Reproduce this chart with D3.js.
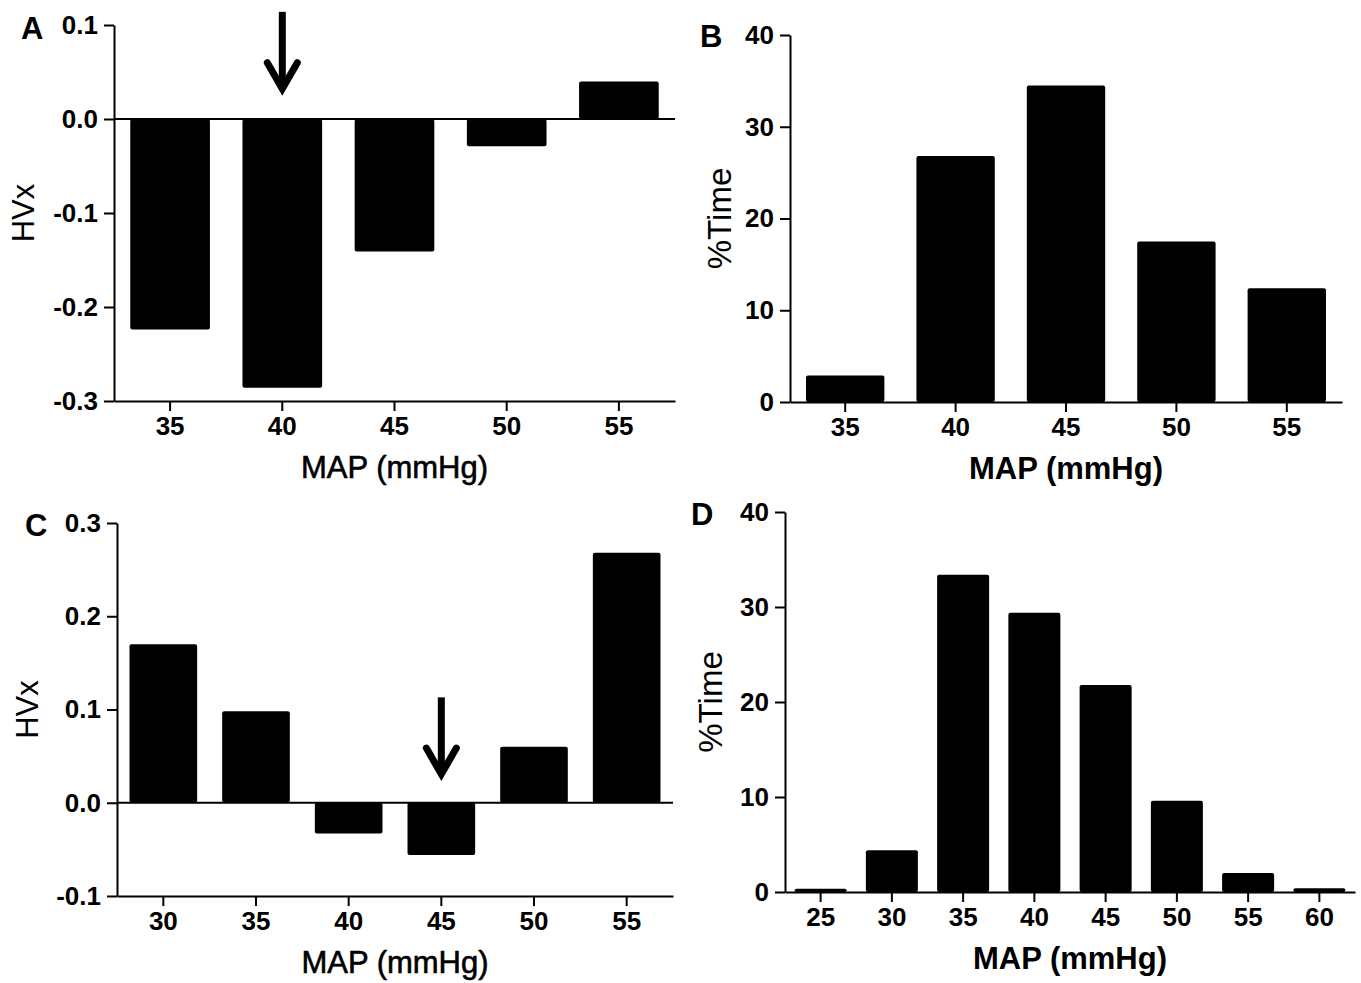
<!DOCTYPE html>
<html>
  <head>
    <meta charset="utf-8">
    <script src="https://d3js.org/d3.v7.min.js" charset="utf-8"></script>
    <style>
      body { margin: 0; background: #fff; }
      svg { display: block; }
      .tick text { font-family: "Liberation Sans", Arial, sans-serif; font-weight: bold; font-size: 26px; fill: #000; }
      .domain, .tick line { stroke: #000; stroke-width: 2; }
      .letter { font-family: "Liberation Sans", Arial, sans-serif; font-weight: bold; font-size: 31px; }
      .ytitle { font-family: "Liberation Sans", Arial, sans-serif; }
      .xtitle { font-family: "Liberation Sans", Arial, sans-serif; font-size: 31px; }
    </style>
  </head>
  <body>
    <div id="chart"></div>
    <script>
      // data
      var catsA = [35, 40, 45, 50, 55];
      var hvxA = [-0.224, -0.286, -0.141, -0.029, 0.040];
      var ticksA = [0.1, 0.0, -0.1, -0.2, -0.3];

      var catsB = [35, 40, 45, 50, 55];
      var timeB = [2.9, 26.8, 34.5, 17.5, 12.4];
      var ticksB = [0, 10, 20, 30, 40];

      var catsC = [30, 35, 40, 45, 50, 55];
      var hvxC = [0.170, 0.098, -0.033, -0.056, 0.060, 0.268];
      var ticksC = [0.3, 0.2, 0.1, 0.0, -0.1];

      var catsD = [25, 30, 35, 40, 45, 50, 55, 60];
      var timeD = [0.35, 4.4, 33.4, 29.4, 21.8, 9.6, 2.0, 0.4];
      var ticksD = [0, 10, 20, 30, 40];

      // arrows mark the lowest-HVx MAP (category, value at top, value at tip)
      var arrowA = [40, 0.114, 0.029];
      var arrowC = [45, 0.113, 0.0275];

      var svg = d3.select('#chart')
          .append('svg')
          .attr('width', 1361)
          .attr('height', 983);

      function drawPanel(p) {
          var x = d3.scaleBand()
              .domain(p.cats)
              .range([p.left, p.right])
              .paddingInner(p.pad)
              .paddingOuter(p.pad / 2);

          var y = d3.scaleLinear()
              .domain(p.yDomain)
              .range([p.bottom, p.top]);

          var g = svg.append('g');

          // bars
          g.selectAll('rect')
              .data(p.vals)
              .enter()
              .append('rect')
              .attr('x', function(d, i) { return x(p.cats[i]); })
              .attr('width', x.bandwidth())
              .attr('y', function(d) { return y(Math.max(0, d)); })
              .attr('height', function(d) { return Math.abs(y(d) - y(0)); })
              .attr('rx', 2)
              .attr('fill', '#000');

          // zero line for HVx panels
          if (p.yDomain[0] < 0) {
              g.append('line')
                  .attr('x1', p.left).attr('x2', p.right)
                  .attr('y1', y(0)).attr('y2', y(0))
                  .attr('stroke', '#000')
                  .attr('stroke-width', 2);
          }

          g.append('g')
              .attr('transform', 'translate(0,' + p.bottom + ')')
              .call(d3.axisBottom(x).tickSize(10).tickSizeOuter(0).tickPadding(6));

          g.append('g')
              .attr('transform', 'translate(' + p.left + ',0)')
              .call(d3.axisLeft(y).tickValues(p.ticks).tickSize(10).tickSizeOuter(0).tickPadding(6)
                  .tickFormat(p.fmt));

          g.selectAll('.domain').attr('fill', 'none');

          // titles
          g.append('text')
              .attr('class', 'letter')
              .attr('x', p.letterX).attr('y', p.letterY)
              .text(p.letter);

          g.append('text')
              .attr('class', 'ytitle')
              .attr('transform', 'translate(' + p.yTitleX + ',' + (p.top + p.bottom) / 2 + ') rotate(-90)')
              .attr('text-anchor', 'middle')
              .style('font-size', p.yTitleSize + 'px')
              .text(p.yTitle);

          var xt = g.append('text')
              .attr('class', 'xtitle')
              .attr('x', (p.left + p.right) / 2)
              .attr('y', p.bottom + 77)
              .attr('text-anchor', 'middle')
              .style('font-weight', p.xBold ? 'bold' : 'normal')
              .text('MAP (mmHg)');
          if (!p.xBold) xt.attr('stroke', '#000').attr('stroke-width', 0.6);

          if (p.arrow) {
              var ax = x(p.arrow[0]) + x.bandwidth() / 2;
              var y0 = y(p.arrow[1]), y1 = y(p.arrow[2]);
              g.append('path')
                  .attr('d', 'M' + ax + ',' + y0 + 'L' + ax + ',' + (y1 - 4))
                  .attr('stroke', '#000').attr('stroke-width', 7).attr('fill', 'none');
              g.append('path')
                  .attr('d', 'M' + (ax - 15) + ',' + (y1 - 29) + 'L' + ax + ',' + (y1 - 3) + 'L' + (ax + 15) + ',' + (y1 - 29))
                  .attr('stroke', '#000').attr('stroke-width', 7).attr('fill', 'none')
                  .attr('stroke-linecap', 'round').attr('stroke-linejoin', 'miter');
          }
      }

      var fmt1 = function(d) { return d.toFixed(1); };
      var fmt0 = function(d) { return d; };

      drawPanel({ cats: catsA, vals: hvxA, ticks: ticksA, fmt: fmt1, yDomain: [-0.3, 0.1],
                  left: 114, right: 675, top: 25, bottom: 401, pad: 0.29,
                  letter: 'A', letterX: 21, letterY: 39, yTitle: 'HVx', yTitleX: 34, yTitleSize: 31,
                  xBold: false, arrow: arrowA });

      drawPanel({ cats: catsB, vals: timeB, ticks: ticksB, fmt: fmt0, yDomain: [0, 40],
                  left: 790, right: 1342, top: 35, bottom: 402, pad: 0.29,
                  letter: 'B', letterX: 700, letterY: 47, yTitle: '%Time', yTitleX: 731, yTitleSize: 33,
                  xBold: true });

      drawPanel({ cats: catsC, vals: hvxC, ticks: ticksC, fmt: fmt1, yDomain: [-0.1, 0.3],
                  left: 117, right: 673, top: 523, bottom: 896, pad: 0.27,
                  letter: 'C', letterX: 25, letterY: 536, yTitle: 'HVx', yTitleX: 38, yTitleSize: 31,
                  xBold: false, arrow: arrowC });

      drawPanel({ cats: catsD, vals: timeD, ticks: ticksD, fmt: fmt0, yDomain: [0, 40],
                  left: 785, right: 1355, top: 512, bottom: 892, pad: 0.27,
                  letter: 'D', letterX: 691, letterY: 525, yTitle: '%Time', yTitleX: 722, yTitleSize: 33,
                  xBold: true });
    </script>
  </body>
</html>
